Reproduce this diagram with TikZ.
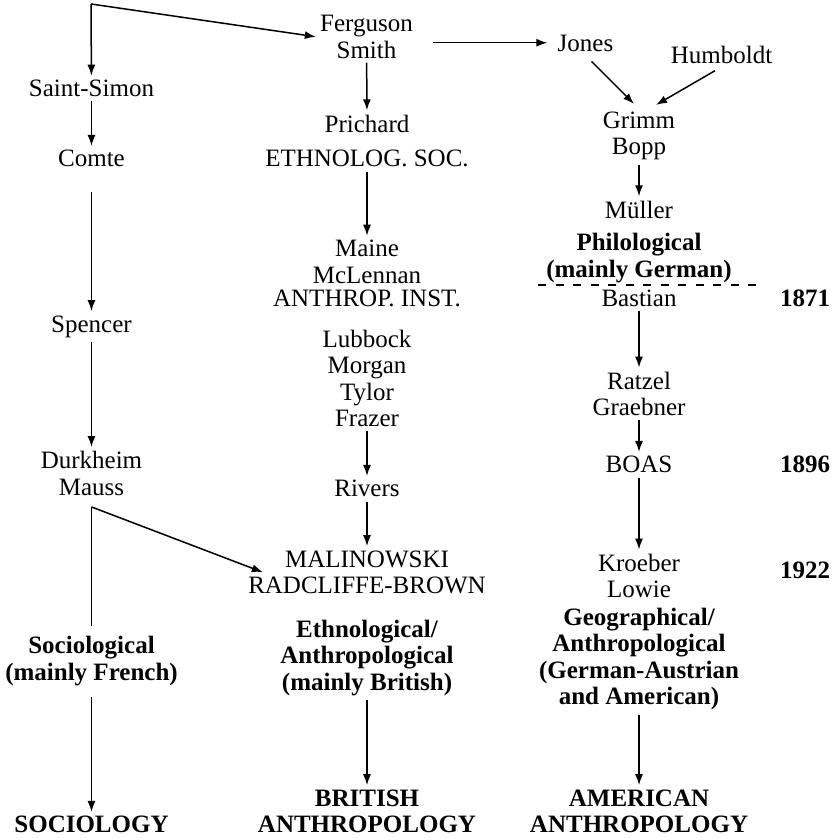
\documentclass[tikz,border=0pt]{standalone}
\usepackage{fontspec}
\setmainfont{Liberation Serif}
\usetikzlibrary{arrows.meta, calc, positioning}
\tikzset{>={Latex[length=5.5pt,width=4pt]}}
\tikzset{person/.style={align=center, inner sep=2pt, font=\fontsize{12.5}{13.25}\selectfont}}
\tikzset{school/.style={person, font=\fontsize{12.5}{13.25}\selectfont\bfseries}}
\tikzset{link/.style={->, line width=0.75pt}}
\tikzset{divider/.style={line width=0.7pt, dash pattern=on 4pt off 4.75pt}}

\begin{document}
\begin{tikzpicture}[x=0.5pt, y=-0.5pt]
  \useasboundingbox (0,0) rectangle (837,838);
  % left column
  \coordinate (origin) at (91,4);
  \node[person] (saintsimon) at (91.5,88.5) {Saint-Simon};
  \node[person] (comte) at (91.5,158.75) {Comte};
  \node[person] (spencer) at (91.5,326.5) {Spencer};
  \node[person] (durkheim) at (91.5,473.5) {Durkheim\\Mauss};
  \node[school] (sociological) at (91.5,661.2) {Sociological\\(mainly French)};
  \node[school] (sociology) at (91.5,824.75) {SOCIOLOGY};
  % middle column
  \node[person] (ferguson) at (366.5,36.75) {Ferguson\\Smith};
  \node[person] (prichard) at (367,123.5) {Prichard};
  \node[person] (ethsoc) at (367,158.75) {ETHNOLOG. SOC.};
  \node[person] (maine) at (367,261.75) {Maine\\McLennan};
  \node[person] (anthinst) at (367,298.75) {ANTHROP. INST.};
  \node[person] (lubbock) at (367,378.5) {Lubbock\\Morgan\\Tylor\\Frazer};
  \node[person] (rivers) at (367,488.75) {Rivers};
  \node[person] (malinowski) at (367,572.25) {MALINOWSKI\\RADCLIFFE-BROWN};
  \node[school] (ethnological) at (367,657.7) {Ethnological/\\Anthropological\\(mainly British)};
  \node[school] (british) at (367,811.25) {BRITISH\\ANTHROPOLOGY};
  % right column
  \node[person] (jones) at (585.5,43.75) {Jones};
  \node[person] (humboldt) at (721.5,54.5) {Humboldt};
  \node[person] (grimm) at (639,136) {Grimm\\Bopp};
  \node[person] (muller) at (639,209.5) {Müller};
  \node[school] (philological) at (639,258.2) {Philological\\(mainly German)};
  \node[person] (bastian) at (639,298.5) {Bastian};
  \node[person] (ratzel) at (639,394) {Ratzel\\Graebner};
  \node[person] (boas) at (639,464.75) {BOAS};
  \node[person] (kroeber) at (639,576) {Kroeber\\Lowie};
  \node[school] (geographical) at (639,659.2) {Geographical/\\Anthropological\\(German-Austrian\\and American)};
  \node[school] (american) at (639,811.25) {AMERICAN\\ANTHROPOLOGY};
  % dates
  \node[school] (y1871) at (805,298.5) {1871};
  \node[school] (y1896) at (805,464.5) {1896};
  \node[school] (y1922) at (805,570.5) {1922};

  \draw[divider] (538,285) -- (762,285);

  \draw[link] (origin) -- (saintsimon);
  \draw[link] (origin) -- (ferguson.west);
  \draw[link] (saintsimon) -- (comte);
  \draw[link, shorten <=10pt] (comte) -- (spencer);
  \draw[link] (spencer) -- (durkheim);
  \coordinate (fork) at ([yshift=-3.5pt]durkheim.south);
  \draw[line width=0.75pt] (fork) -- ([yshift=3pt]sociological.north);
  \draw[link] (fork) -- ([xshift=9.5pt]malinowski.west);
  \draw[link, shorten <=3.5pt] (sociological) -- (sociology);

  \draw[link] (ferguson) -- (prichard);
  \draw[link, shorten <=8pt, shorten >=3pt] ([yshift=-3pt]ferguson.east) -- ([yshift=-3pt]ferguson.east -| jones.west);
  \draw[link] (ethsoc) -- (maine);
  \draw[link] (lubbock) -- (rivers);
  \draw[link] (rivers) -- (malinowski);
  \draw[link] (ethnological) -- (british);

  \draw[link] ([xshift=3pt,yshift=-2.5pt]jones.south) -- ([xshift=-2.5pt,yshift=1.75pt]grimm.north);
  \draw[link] ([xshift=-3.25pt,yshift=-1.5pt]humboldt.south) -- ([xshift=8.5pt,yshift=1.25pt]grimm.north);
  \draw[link] (grimm) -- (muller);
  \draw[link] (bastian) -- (ratzel);
  \draw[link] (ratzel) -- (boas);
  \draw[link] (boas) -- (kroeber);
  \draw[link] (geographical) -- (american);
\end{tikzpicture}
\end{document}
